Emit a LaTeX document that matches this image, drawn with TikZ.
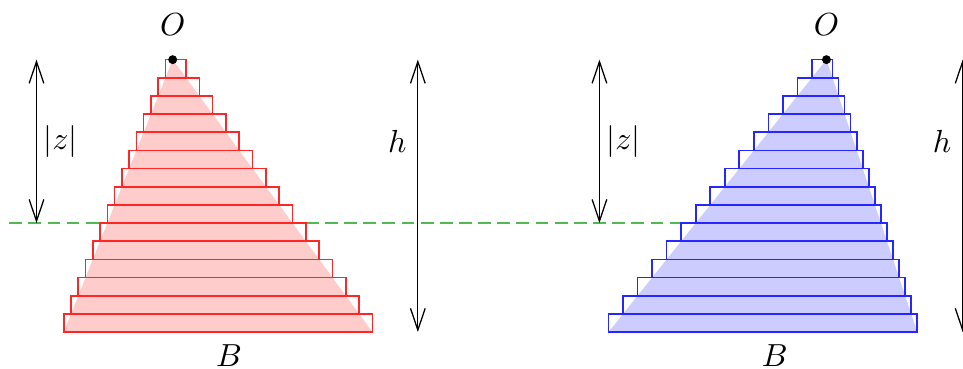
\documentclass[tikz,border=0pt]{standalone}
\usepackage{tikz}
\usetikzlibrary{positioning,arrows.meta}
\definecolor{cutgreen}{RGB}{80,185,80}
\tikzset{
dim/.style={<->,>={Straight Barb[length=6.8pt,width=4.6pt]}},
cut/.style={cutgreen,line width=0.5pt,dash pattern=on 4pt off 2pt},
slabred/.style={draw=red!85,line width=0.5pt},
slabblue/.style={draw=blue!85,line width=0.5pt},
dot/.style={circle,fill,inner sep=0pt,minimum size=2.8pt},
el/.style={inner sep=2pt},
}

\begin{document}
\begin{tikzpicture}
	\useasboundingbox (-1.902,-3.406) rectangle (8.704,0.657);

	\coordinate (c1) at (-1.8,-1.8);
	\coordinate (c2) at (-0.8,-1.8);
	\coordinate (c3) at (1.4667,-1.8);
	\coordinate (c4) at (5.6,-1.8);
	\draw[cut] (c1) -- (c2);
	\draw[cut] (c3) -- (c4);

	\fill[red!20] (0,0) -- (-1.2,-3) -- (2.2,-3) -- cycle;
	\foreach \i in {1,...,15}
		\draw[slabred] ({-1.2*\i/15},{-0.2*(\i-1)}) rectangle ({2.2*\i/15},{-0.2*\i});

	\fill[blue!20] (7.2,0) -- (4.8,-3) -- (8.2,-3) -- cycle;
	\foreach \i in {1,...,15}
		\draw[slabblue] ({7.2-2.4*\i/15},{-0.2*(\i-1)}) rectangle ({7.2+1.0*\i/15},{-0.2*\i});

	\node[dot] (o1) at (0,0) {};
	\node[above=2.5pt of o1] (lo1) {$O$};
	\node[below=0.5pt] (lb1) at (0.62,-3) {$B$};

	\node[dot] (o2) at (7.2,0) {};
	\node[above=2.5pt of o2] (lo2) {$O$};
	\node[below=0.5pt] (lb2) at (6.63,-3) {$B$};

	\coordinate (zt1) at (-1.5,0);
	\coordinate (zb1) at (-1.5,-1.8);
	\coordinate (ht1) at (2.7,0);
	\coordinate (hb1) at (2.7,-3);
	\coordinate (zt2) at (4.7,0);
	\coordinate (zb2) at (4.7,-1.8);
	\coordinate (ht2) at (8.7,0);
	\coordinate (hb2) at (8.7,-3);

	\path
	(zt1) edge[dim] node[el,right] {$|z|$} (zb1)
	(ht1) edge[dim] node[left,pos=0.3] {$h$} (hb1)
	(zt2) edge[dim] node[el,right] {$|z|$} (zb2)
	(ht2) edge[dim] node[left,pos=0.3] {$h$} (hb2)
	;
\end{tikzpicture}
\end{document}
